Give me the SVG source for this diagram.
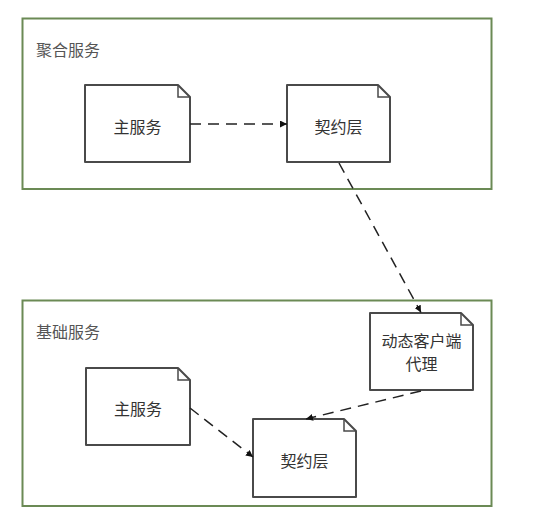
<svg xmlns="http://www.w3.org/2000/svg" width="543" height="521" viewBox="0 0 543 521">
<defs>
<style>
.container{fill:#ffffff;stroke:#6b8a55;stroke-width:2}
.doc{fill:#ffffff;stroke:#4a4a4a;stroke-width:2;stroke-linejoin:round}
.fold{fill:none;stroke:#4a4a4a;stroke-width:1.5}
.lbl{font-family:"Noto Sans CJK SC","Noto Sans",sans-serif;font-size:16px;fill:#555555}
.txt{font-family:"Noto Sans CJK SC","Noto Sans",sans-serif;font-size:16px;fill:#333333;text-anchor:middle;dominant-baseline:central}
.edge{fill:none;stroke:#222222;stroke-width:1.5;stroke-dasharray:11 7}
</style>
<marker id="arr" viewBox="0 0 10 10" refX="10" refY="5" markerWidth="7" markerHeight="7" markerUnits="userSpaceOnUse" orient="auto">
<path d="M0,0 L10,5 L0,10 z" fill="#111111"/>
</marker>
</defs>
<rect width="543" height="521" fill="#ffffff"/>
<g id="container-top">
<rect class="container" x="22.5" y="18.5" width="469" height="170.5"/>
<text class="lbl" x="36" y="56">聚合服务</text>
</g>
<g id="container-bottom">
<rect class="container" x="22.5" y="300.5" width="469" height="205.5"/>
<text class="lbl" x="36" y="338">基础服务</text>
</g>
<g id="top-main">
<path class="doc" d="M85,85 H178 L190,97 V162 H85 Z"/>
<path class="fold" d="M178,85 V97 H190"/>
<text class="txt" x="137.5" y="126">主服务</text>
</g>
<g id="top-contract">
<path class="doc" d="M287,85 H378 L390,97 V162 H287 Z"/>
<path class="fold" d="M378,85 V97 H390"/>
<text class="txt" x="338.5" y="126">契约层</text>
</g>
<g id="proxy">
<path class="doc" d="M370,313 H461 L473,325 V390 H370 Z"/>
<path class="fold" d="M461,313 V325 H473"/>
<text class="txt" x="421.5" y="340">动态客户端</text>
<text class="txt" x="421.5" y="363">代理</text>
</g>
<g id="bottom-main">
<path class="doc" d="M86,368 H178 L190,380 V445 H86 Z"/>
<path class="fold" d="M178,368 V380 H190"/>
<text class="txt" x="138" y="408">主服务</text>
</g>
<g id="bottom-contract">
<path class="doc" d="M253,419 H344 L356,431 V497 H253 Z"/>
<path class="fold" d="M344,419 V431 H356"/>
<text class="txt" x="304.5" y="460">契约层</text>
</g>
<g id="connectors">
<path class="edge" d="M190,124 L287,124" marker-end="url(#arr)"/>
<path class="edge" d="M339,163 L421,312.5" marker-end="url(#arr)"/>
<path class="edge" d="M421,391 L306,419" marker-end="url(#arr)"/>
<path class="edge" d="M190,408 L253,457" marker-end="url(#arr)"/>
</g>
</svg>
